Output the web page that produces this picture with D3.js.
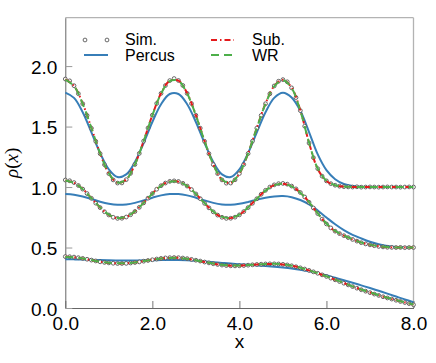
<!DOCTYPE html>
<html>
<head>
<meta charset="utf-8">
<script src="https://cdn.jsdelivr.net/npm/d3@7"></script>
<style>
  body { margin: 0; background: #fff; }
  #vis { width: 436px; height: 363px; }
  text { font-family: "Liberation Sans", Arial, sans-serif; }
</style>
</head>
<body>
<div id="vis"></div>
<script>
// x grids: simulation every 0.1, theory curves every 0.2
var x_sim = d3.range(0, 81).map(function(i) { return i / 10; });
var x_line = d3.range(0, 41).map(function(i) { return i / 5; });

// top profile (bulk 1.0)
var sim_top = [1.893,1.878,1.838,1.772,1.689,1.592,1.486,1.378,1.276,1.185,1.111,1.059,1.033,1.034,1.061,1.113,1.187,1.278,1.380,1.488,
  1.594,1.691,1.774,1.839,1.880,1.897,1.881,1.840,1.774,1.690,1.593,1.487,1.378,1.276,1.185,1.111,1.059,1.032,1.033,1.060,
  1.112,1.186,1.277,1.379,1.487,1.592,1.689,1.771,1.836,1.875,1.888,1.870,1.820,1.740,1.632,1.503,1.364,1.243,1.152,1.090,
  1.051,1.028,1.015,1.007,1.003,1.001,1.000,1.002,0.999,1.000,1.001,1.000,0.999,1.000,1.001,1.000,1.000,0.999,1.000,1.001,1.000];
var percus_top = [1.780,1.737,1.618,1.452,1.281,1.147,1.083,1.105,1.207,1.364,1.538,1.685,1.769,1.769,1.685,1.538,1.364,1.207,1.105,1.083,
  1.147,1.281,1.452,1.618,1.737,1.780,1.740,1.630,1.455,1.270,1.140,1.065,1.025,1.008,1.002,1.000,1.000,1.000,1.000,1.000,1.000];
var sub_top = [1.890,1.836,1.690,1.488,1.278,1.112,1.035,1.062,1.188,1.381,1.595,1.775,1.878,1.879,1.775,1.594,1.380,1.187,1.061,1.034,
  1.111,1.278,1.489,1.690,1.835,1.886,1.822,1.634,1.366,1.150,1.050,1.014,1.003,1.000,1.000,1.000,1.000,1.000,1.000,1.000,1.000];
var wr_top = [1.888,1.835,1.688,1.487,1.279,1.114,1.037,1.063,1.187,1.379,1.592,1.772,1.876,1.877,1.773,1.592,1.379,1.188,1.063,1.036,
  1.113,1.279,1.488,1.688,1.833,1.884,1.818,1.630,1.368,1.153,1.052,1.015,1.004,1.001,1.000,1.000,1.000,1.000,1.000,1.000,1.000];

// middle profile (bulk 0.5)
var sim_mid = [1.058,1.052,1.037,1.013,0.983,0.946,0.907,0.867,0.830,0.796,0.769,0.750,0.741,0.742,0.752,0.771,0.798,0.832,0.869,0.908,
  0.946,0.982,1.011,1.033,1.047,1.051,1.046,1.031,1.008,0.979,0.943,0.904,0.865,0.828,0.795,0.768,0.750,0.741,0.742,0.751,
  0.770,0.797,0.830,0.866,0.903,0.940,0.973,1.000,1.018,1.028,1.030,1.024,1.008,0.985,0.955,0.918,0.874,0.827,0.780,0.735,
  0.695,0.662,0.635,0.615,0.598,0.582,0.567,0.553,0.540,0.530,0.522,0.515,0.509,0.505,0.502,0.501,0.500,0.501,0.499,0.500,0.500];
var percus_mid = [0.943,0.937,0.922,0.901,0.879,0.862,0.853,0.856,0.869,0.890,0.912,0.931,0.942,0.942,0.931,0.912,0.890,0.869,0.856,0.853,
  0.861,0.877,0.896,0.912,0.922,0.925,0.916,0.893,0.857,0.806,0.748,0.692,0.644,0.605,0.575,0.548,0.527,0.512,0.504,0.501,0.500];
var sub_mid = [1.055,1.035,0.984,0.908,0.831,0.770,0.743,0.753,0.799,0.870,0.947,1.012,1.046,1.045,1.009,0.944,0.866,0.796,0.751,0.743,
  0.771,0.831,0.904,0.972,1.016,1.028,1.007,0.954,0.875,0.781,0.696,0.636,0.598,0.567,0.541,0.523,0.510,0.503,0.500,0.500,0.500];
var wr_mid = [1.054,1.034,0.982,0.907,0.832,0.772,0.745,0.755,0.800,0.869,0.945,1.010,1.044,1.044,1.008,0.943,0.867,0.798,0.753,0.745,
  0.772,0.832,0.903,0.970,1.014,1.026,1.005,0.953,0.876,0.783,0.698,0.637,0.599,0.568,0.542,0.524,0.511,0.504,0.501,0.500,0.500];

// bottom profile
var sim_bot = [0.425,0.424,0.421,0.416,0.410,0.403,0.396,0.389,0.382,0.377,0.373,0.370,0.368,0.368,0.369,0.372,0.376,0.381,0.387,0.393,
  0.399,0.405,0.410,0.414,0.416,0.417,0.416,0.413,0.408,0.402,0.395,0.388,0.380,0.373,0.366,0.360,0.355,0.351,0.349,0.348,
  0.349,0.351,0.354,0.357,0.360,0.362,0.364,0.365,0.365,0.364,0.361,0.356,0.349,0.341,0.332,0.322,0.311,0.299,0.287,0.274,
  0.261,0.247,0.233,0.219,0.205,0.191,0.177,0.164,0.151,0.139,0.127,0.115,0.104,0.093,0.083,0.074,0.064,0.054,0.045,0.036,0.027];
var percus_bot = [0.403,0.402,0.400,0.398,0.396,0.394,0.393,0.393,0.393,0.394,0.395,0.396,0.397,0.396,0.394,0.390,0.385,0.379,0.373,0.367,
  0.362,0.357,0.352,0.347,0.341,0.334,0.326,0.316,0.303,0.288,0.270,0.250,0.230,0.209,0.187,0.165,0.142,0.119,0.095,0.071,0.048];
var sub_bot = [0.423,0.420,0.409,0.395,0.382,0.373,0.369,0.370,0.377,0.388,0.400,0.410,0.415,0.415,0.407,0.394,0.380,0.367,0.356,0.350,
  0.350,0.355,0.360,0.363,0.364,0.360,0.349,0.332,0.311,0.287,0.261,0.234,0.206,0.178,0.152,0.128,0.105,0.084,0.065,0.046,0.028];
var wr_bot = [0.421,0.419,0.409,0.396,0.383,0.374,0.370,0.371,0.377,0.388,0.399,0.409,0.414,0.414,0.407,0.395,0.381,0.368,0.357,0.351,
  0.351,0.355,0.360,0.364,0.365,0.361,0.350,0.333,0.312,0.288,0.262,0.235,0.207,0.179,0.153,0.129,0.106,0.085,0.066,0.047,0.029];

var x_ticks = [0, 2, 4, 6, 8];
var y_ticks = [0, 0.5, 1.0, 1.5, 2.0];

var color_percus = "#377eb8";
var color_sub = "#e41a1c";
var color_wr = "#4daf4a";

var width = 436;
var height = 363;

var margin = {
    top: 17.7,
    bottom: 55,
    left: 65.3,
    right: 22.5
}

var svg = d3.select('#vis')
    .append('svg')
    .attr('width', width)
    .attr('height', height)
    .append('g')
    .attr('transform', 'translate(' + margin.left + ',' + margin.top + ')');

width = width - margin.left - margin.right;
height = height - margin.top - margin.bottom;

var x_scale = d3.scaleLinear().domain([0, 8]).range([0, width]);
var y_scale = d3.scaleLinear().domain([0, 2.4]).range([height, 0]);

// frame: light top/right, darker left/bottom
svg.append("line").attr("x1", 0).attr("x2", width).attr("y1", 0).attr("y2", 0)
    .attr("stroke", "#b3b3b3").attr("stroke-width", 1.3);
svg.append("line").attr("x1", width).attr("x2", width).attr("y1", 0).attr("y2", height)
    .attr("stroke", "#b3b3b3").attr("stroke-width", 1.3);

var x_axis = d3.axisBottom(x_scale)
    .tickValues(x_ticks)
    .tickFormat(d3.format(".1f"))
    .tickSizeInner(-7)
    .tickSizeOuter(0)
    .tickPadding(9);

var y_axis = d3.axisLeft(y_scale)
    .tickValues(y_ticks)
    .tickFormat(d3.format(".1f"))
    .tickSizeInner(-7)
    .tickSizeOuter(0)
    .tickPadding(8);

var gx = svg.append('g')
    .attr('class', 'x axis')
    .attr('transform', 'translate(0,' + height + ')')
    .call(x_axis);
gx.select('.domain').attr('stroke', '#666');
gx.selectAll('.tick line').attr('stroke', '#777');
gx.selectAll('.tick text').style('font-size', '19px').attr('fill', '#000');

var gy = svg.append('g')
    .attr('class', 'y axis')
    .call(y_axis);
gy.select('.domain').attr('stroke', '#666');
gy.selectAll('.tick line').attr('stroke', '#999');
gy.selectAll('.tick text').style('font-size', '19px').attr('fill', '#000').attr('dy', '0.38em');

// axis labels
svg.append("text")
    .attr("x", width / 2)
    .attr("y", height + 40)
    .style("text-anchor", "middle")
    .style("font-size", "19px")
    .text("x");

var ylab = svg.append("text")
    .attr("transform", "translate(" + (18 - margin.left) + "," + (height / 2) + ") rotate(-90)")
    .style("text-anchor", "middle")
    .style("font-size", "19px")
    .style("font-family", "'Liberation Serif', 'DejaVu Serif', serif");
ylab.append("tspan").style("font-style", "italic").style("font-family", "inherit").text("ρ");
ylab.append("tspan").text("(");
ylab.append("tspan").style("font-style", "italic").text("x");
ylab.append("tspan").text(")");
ylab.selectAll("tspan").style("font-family", "'Liberation Serif', 'DejaVu Serif', serif");

function make_line(xs) {
  return d3.line()
    .x(function(d, i) { return x_scale(xs[i]); })
    .y(function(d) { return y_scale(d); })
    .curve(d3.curveCatmullRom.alpha(0.5));
}

var line_02 = make_line(x_line);

function draw_percus(values) {
  svg.append("path")
    .datum(values)
    .attr("fill", "none")
    .attr("stroke", color_percus)
    .attr("stroke-width", 2)
    .attr("d", line_02);
}

function draw_sim(values) {
  svg.append("g")
    .selectAll("circle")
    .data(values)
    .enter()
    .append("circle")
    .attr("cx", function(d, i) { return x_scale(x_sim[i]); })
    .attr("cy", function(d) { return y_scale(d); })
    .attr("r", 1.9)
    .attr("fill", "#fff")
    .attr("stroke", "#444")
    .attr("stroke-width", 0.8);
}

function draw_dashed(values, color, dash) {
  svg.append("path")
    .datum(values)
    .attr("fill", "none")
    .attr("stroke", color)
    .attr("stroke-width", 2)
    .attr("stroke-dasharray", dash)
    .attr("d", line_02);
}

var sets = [
  [sim_top, percus_top, sub_top, wr_top],
  [sim_mid, percus_mid, sub_mid, wr_mid],
  [sim_bot, percus_bot, sub_bot, wr_bot]
];

sets.forEach(function(s) { draw_percus(s[1]); });
sets.forEach(function(s) { draw_sim(s[0]); });
sets.forEach(function(s) { draw_dashed(s[2], color_sub, "6,3,1.5,3"); });
sets.forEach(function(s) { draw_dashed(s[3], color_wr, "8,5"); });

// legend
var legend = svg.append("g").attr("transform", "translate(" + (-margin.left) + "," + (-margin.top) + ")");

legend.selectAll("circle.leg")
    .data([85, 107])
    .enter()
    .append("circle")
    .attr("cx", function(d) { return d; })
    .attr("cy", 40)
    .attr("r", 1.9)
    .attr("fill", "#fff")
    .attr("stroke", "#444")
    .attr("stroke-width", 0.8);

legend.append("line").attr("x1", 84).attr("x2", 108).attr("y1", 55).attr("y2", 55)
    .attr("stroke", color_percus).attr("stroke-width", 2);
legend.append("line").attr("x1", 211).attr("x2", 234).attr("y1", 40).attr("y2", 40)
    .attr("stroke", color_sub).attr("stroke-width", 2).attr("stroke-dasharray", "6,3,1.5,3");
legend.append("line").attr("x1", 211).attr("x2", 234).attr("y1", 55).attr("y2", 55)
    .attr("stroke", color_wr).attr("stroke-width", 2).attr("stroke-dasharray", "8,5");

var legend_items = [["Sim.", 125, 45], ["Percus", 125, 61], ["Sub.", 252, 45], ["WR", 252, 61]];
legend.selectAll("text.leg")
    .data(legend_items)
    .enter()
    .append("text")
    .attr("x", function(d) { return d[1]; })
    .attr("y", function(d) { return d[2]; })
    .style("font-size", "16px")
    .text(function(d) { return d[0]; });
</script>
</body>
</html>
